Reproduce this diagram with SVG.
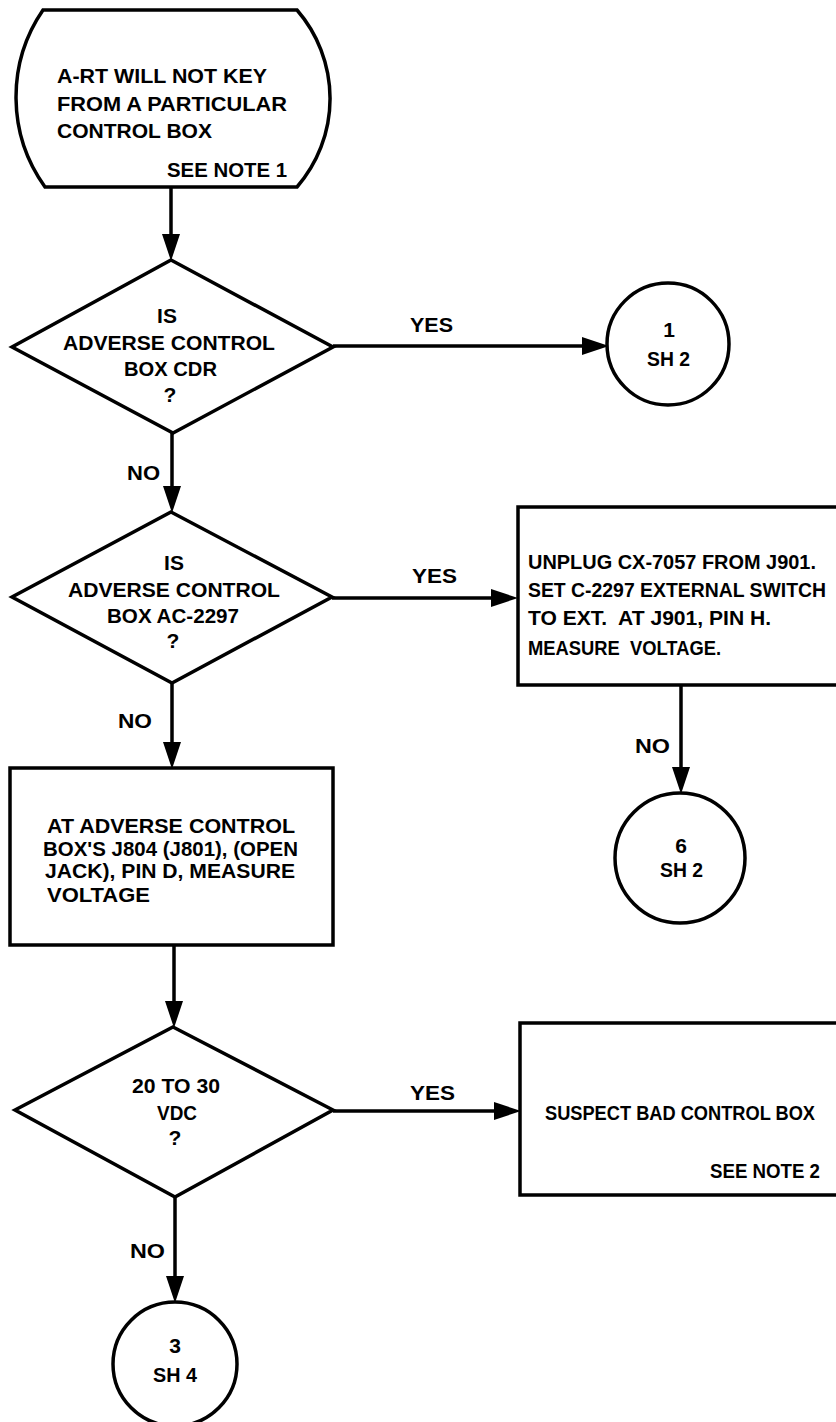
<svg xmlns="http://www.w3.org/2000/svg" width="836" height="1422" viewBox="0 0 836 1422">
<style>
.s{fill:#fff;stroke:#000;stroke-width:3.5;stroke-linejoin:miter}
.c{fill:none;stroke:#000;stroke-width:3.5}
text{font-family:"Liberation Sans",Arial,sans-serif;font-weight:bold;font-size:21px;fill:#000}
.m{text-anchor:middle}
</style>
<defs>
<marker id="ah" markerUnits="userSpaceOnUse" markerWidth="27" markerHeight="18" refX="18" refY="9" orient="auto">
<path d="M0,0 L27,9 L0,18 Z" fill="#000"/>
</marker>
</defs>
<rect width="836" height="1422" fill="#fff"/>
<g id="connectors">
<path class="c" d="M171,187 V252" marker-end="url(#ah)"/>
<path class="c" d="M172,433 V504" marker-end="url(#ah)"/>
<path class="c" d="M172,683 V760" marker-end="url(#ah)"/>
<path class="c" d="M174,945 V1019" marker-end="url(#ah)"/>
<path class="c" d="M175,1197 V1294" marker-end="url(#ah)"/>
<path class="c" d="M333,346 H600" marker-end="url(#ah)"/>
<path class="c" d="M332,598 H509" marker-end="url(#ah)"/>
<path class="c" d="M333,1111 H512" marker-end="url(#ah)"/>
<path class="c" d="M681,685 V785" marker-end="url(#ah)"/>
<text x="410" y="332" textLength="43" lengthAdjust="spacingAndGlyphs">YES</text>
<text x="412" y="583" textLength="45" lengthAdjust="spacingAndGlyphs">YES</text>
<text x="410" y="1100" textLength="45" lengthAdjust="spacingAndGlyphs">YES</text>
<text x="127" y="480" textLength="33" lengthAdjust="spacingAndGlyphs">NO</text>
<text x="118" y="728" textLength="34" lengthAdjust="spacingAndGlyphs">NO</text>
<text x="635" y="753" textLength="35" lengthAdjust="spacingAndGlyphs">NO</text>
<text x="130" y="1258" textLength="35" lengthAdjust="spacingAndGlyphs">NO</text>
</g>
<g id="start">
<path class="s" d="M43,10 L297,10 A135,135 0 0 1 297,187 L45,187 A154,154 0 0 1 43,10 Z"/>
<text x="57" y="83" textLength="210" lengthAdjust="spacingAndGlyphs">A-RT WILL NOT KEY</text>
<text x="57" y="111" textLength="230" lengthAdjust="spacingAndGlyphs">FROM A PARTICULAR</text>
<text x="57" y="138" textLength="155" lengthAdjust="spacingAndGlyphs">CONTROL BOX</text>
<text x="167" y="177" textLength="120" lengthAdjust="spacingAndGlyphs">SEE NOTE 1</text>
</g>
<g id="decision1">
<path class="s" d="M171,260 L333,347 L173,433 L12,347 Z"/>
<text class="m" x="167" y="323">IS</text>
<text x="63" y="350" textLength="212" lengthAdjust="spacingAndGlyphs">ADVERSE CONTROL</text>
<text x="124" y="376" textLength="93" lengthAdjust="spacingAndGlyphs">BOX CDR</text>
<text class="m" x="170" y="402">?</text>
</g>
<g id="conn1">
<circle class="s" cx="668" cy="344" r="61"/>
<text class="m" x="669" y="337">1</text>
<text x="647" y="366" textLength="43" lengthAdjust="spacingAndGlyphs">SH 2</text>
</g>
<g id="decision2">
<path class="s" d="M171,512 L332,597 L172,683 L12,597 Z"/>
<text class="m" x="174" y="570">IS</text>
<text x="68" y="597" textLength="212" lengthAdjust="spacingAndGlyphs">ADVERSE CONTROL</text>
<text x="107" y="623" textLength="132" lengthAdjust="spacingAndGlyphs">BOX AC-2297</text>
<text class="m" x="173" y="648">?</text>
</g>
<g id="box2">
<path class="s" d="M836,507 H518 V685 H836"/>
<text x="528" y="569" textLength="288" lengthAdjust="spacingAndGlyphs">UNPLUG CX-7057 FROM J901.</text>
<text x="528" y="597" textLength="298" lengthAdjust="spacingAndGlyphs">SET C-2297 EXTERNAL SWITCH</text>
<text x="528" y="625" textLength="243" lengthAdjust="spacingAndGlyphs" xml:space="preserve">TO EXT.  AT J901, PIN H.</text>
<text x="528" y="655" textLength="193" lengthAdjust="spacingAndGlyphs" xml:space="preserve">MEASURE  VOLTAGE.</text>
</g>
<g id="conn6">
<circle class="s" cx="680" cy="858" r="65"/>
<text class="m" x="681" y="853">6</text>
<text x="660" y="877" textLength="43" lengthAdjust="spacingAndGlyphs">SH 2</text>
</g>
<g id="box3">
<rect class="s" x="10" y="768" width="323" height="177"/>
<text x="47" y="833" textLength="248" lengthAdjust="spacingAndGlyphs">AT ADVERSE CONTROL</text>
<text x="43" y="856" textLength="255" lengthAdjust="spacingAndGlyphs">BOX'S J804 (J801), (OPEN</text>
<text x="45" y="878" textLength="250" lengthAdjust="spacingAndGlyphs">JACK), PIN D, MEASURE</text>
<text x="47" y="902" textLength="103" lengthAdjust="spacingAndGlyphs">VOLTAGE</text>
</g>
<g id="decision3">
<path class="s" d="M173,1027 L333,1110 L175,1197 L15,1110 Z"/>
<text x="132" y="1093" textLength="88" lengthAdjust="spacingAndGlyphs">20 TO 30</text>
<text x="157" y="1120" textLength="40" lengthAdjust="spacingAndGlyphs">VDC</text>
<text class="m" x="175" y="1145">?</text>
</g>
<g id="box4">
<path class="s" d="M836,1023 H520 V1195 H836"/>
<text x="545" y="1120" textLength="270" lengthAdjust="spacingAndGlyphs">SUSPECT BAD CONTROL BOX</text>
<text x="710" y="1178" textLength="110" lengthAdjust="spacingAndGlyphs">SEE NOTE 2</text>
</g>
<g id="conn3">
<circle class="s" cx="175" cy="1364" r="62"/>
<text class="m" x="175" y="1353">3</text>
<text x="153" y="1382" textLength="44" lengthAdjust="spacingAndGlyphs">SH 4</text>
</g>
</svg>
